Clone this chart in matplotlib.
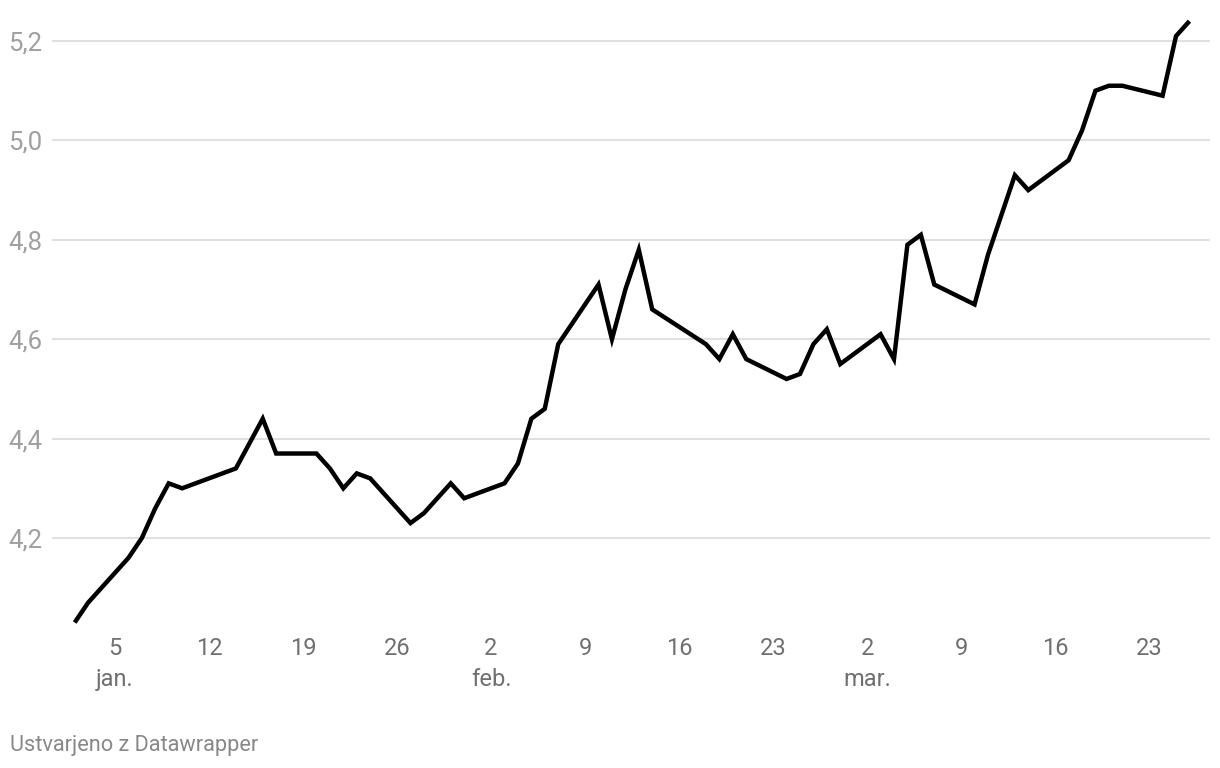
import matplotlib
matplotlib.use("Agg")
import matplotlib.pyplot as plt
import pandas as pd

# readings (weekdays, 2025)
dates = [
    "2025-01-02", "2025-01-03", "2025-01-06", "2025-01-07", "2025-01-08",
    "2025-01-09", "2025-01-10", "2025-01-14", "2025-01-16", "2025-01-17",
    "2025-01-20", "2025-01-21", "2025-01-22", "2025-01-23", "2025-01-24",
    "2025-01-27", "2025-01-28", "2025-01-30", "2025-01-31", "2025-02-03",
    "2025-02-04", "2025-02-05", "2025-02-06", "2025-02-07", "2025-02-10",
    "2025-02-11", "2025-02-12", "2025-02-13", "2025-02-14", "2025-02-18",
    "2025-02-19", "2025-02-20", "2025-02-21", "2025-02-24", "2025-02-25",
    "2025-02-26", "2025-02-27", "2025-02-28", "2025-03-03", "2025-03-04",
    "2025-03-05", "2025-03-06", "2025-03-07", "2025-03-10", "2025-03-11",
    "2025-03-12", "2025-03-13", "2025-03-14", "2025-03-17", "2025-03-18",
    "2025-03-19", "2025-03-20", "2025-03-21", "2025-03-24", "2025-03-25",
    "2025-03-26",
]
values = [
    4.03, 4.07, 4.16, 4.20, 4.26,
    4.31, 4.30, 4.34, 4.44, 4.37,
    4.37, 4.34, 4.30, 4.33, 4.32,
    4.23, 4.25, 4.31, 4.28, 4.31,
    4.35, 4.44, 4.46, 4.59, 4.71,
    4.60, 4.70, 4.78, 4.66, 4.59,
    4.56, 4.61, 4.56, 4.52, 4.53,
    4.59, 4.62, 4.55, 4.61, 4.56,
    4.79, 4.81, 4.71, 4.67, 4.77,
    4.85, 4.93, 4.90, 4.96, 5.02,
    5.10, 5.11, 5.11, 5.09, 5.21,
    5.24,
]

x_ticks = ["2025-01-05", "2025-01-12", "2025-01-19", "2025-01-26", "2025-02-02",
           "2025-02-09", "2025-02-16", "2025-02-23", "2025-03-02", "2025-03-09",
           "2025-03-16", "2025-03-23"]
x_tick_labels = ["5\njan.", "12", "19", "26", "2\nfeb.", "9", "16", "23",
                 "2\nmar.", "9", "16", "23"]
y_ticks = [4.2, 4.4, 4.6, 4.8, 5.0, 5.2]
y_tick_labels = ["4,2", "4,4", "4,6", "4,8", "5,0", "5,2"]

plt.rcParams["font.family"] = ["Roboto", "DejaVu Sans"]

W, H = 1220, 768
fig = plt.figure(figsize=(W / 100, H / 100), dpi=100)
# axes box in pixels: left 52, right 1210, top 10, bottom 630
ax = fig.add_axes([52 / W, (H - 630) / H, (1210 - 52) / W, 620 / H])

x = pd.to_datetime(dates)
ax.plot(x, values, color="#000000", lw=3.2, solid_joinstyle="miter",
        solid_capstyle="butt", clip_on=False, zorder=3)

ax.set_xlim(pd.Timestamp("2024-12-31 07:25"), pd.Timestamp("2025-03-27 12:43"))
ax.set_ylim(4.0149, 5.2624)

ax.set_yticks(y_ticks)
ax.set_yticklabels(y_tick_labels)
ax.set_xticks(pd.to_datetime(x_ticks))
ax.set_xticklabels(x_tick_labels)

ax.grid(axis="y", color="#e0e0e0", lw=1.5)
ax.set_axisbelow(True)
for s in ax.spines.values():
    s.set_visible(False)

ax.tick_params(axis="y", length=0, pad=31.5, labelsize=18.5, labelcolor="#a0a0a0")
for lab in ax.get_yticklabels():
    lab.set_horizontalalignment("left")
ax.tick_params(axis="x", length=0, pad=5, labelsize=17, labelcolor="#707070")
for lab in ax.get_xticklabels():
    lab.set_linespacing(1.45)
    lab.set_verticalalignment("top")

fig.text(10 / W, 1 - 745 / H, "Ustvarjeno z Datawrapper", fontsize=15.7,
         color="#888888", ha="left", va="center")

fig.savefig("out.png", dpi=100, facecolor="white")
